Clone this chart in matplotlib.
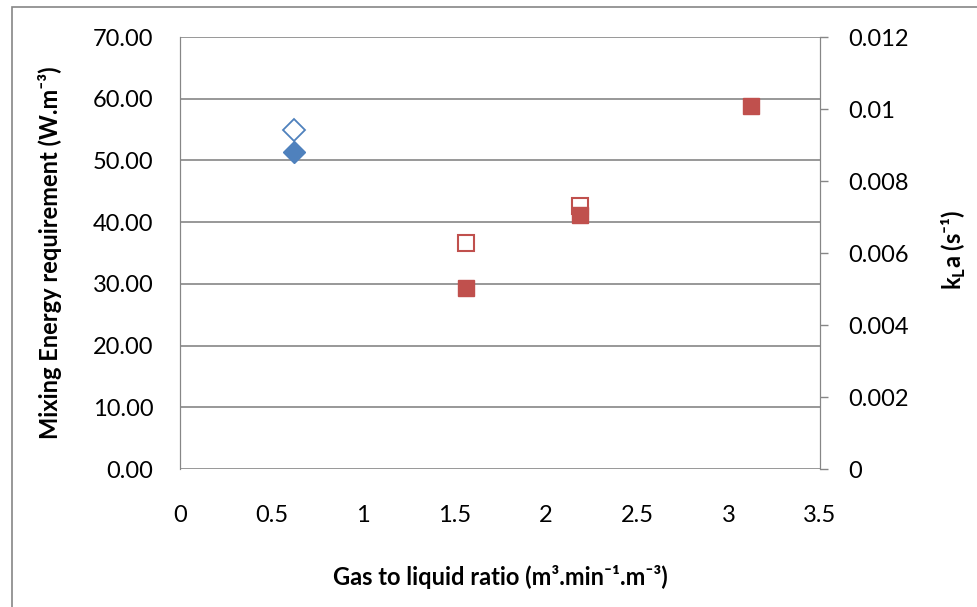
import matplotlib.pyplot as plt
from matplotlib.patches import Rectangle

plt.rcParams['font.family'] = ['Lato', 'DejaVu Sans']

# Mixing energy (left axis, filled markers)
gl_blue = [0.625]
energy_blue = [51.4]
gl_red = [1.565, 2.19, 3.125]
energy_red = [29.3, 41.2, 58.8]

# kLa (right axis, hollow markers)
gl_kla_blue = [0.625]
kla_blue = [0.00941]
gl_kla_red = [1.565, 2.19]
kla_red = [0.00628, 0.00730]

x_ticks = [0, 0.5, 1, 1.5, 2, 2.5, 3, 3.5]
x_tick_labels = ['0', '0.5', '1', '1.5', '2', '2.5', '3', '3.5']
kla_ticks = [0, 0.002, 0.004, 0.006, 0.008, 0.01, 0.012]
kla_tick_labels = ['0', '0.002', '0.004', '0.006', '0.008', '0.01', '0.012']

blue = '#4F81BD'
red = '#C0504D'
grey = '#868686'

fig = plt.figure(figsize=(9.77, 6.07), dpi=100)
ax = fig.add_axes([180 / 977, 138 / 607, 640 / 977, 432 / 607])
ax2 = ax.twinx()
# filled markers sit on top of the hollow ones
ax.set_zorder(ax2.get_zorder() + 1)
ax.patch.set_visible(False)

ax.plot(gl_blue, energy_blue, linestyle='none', marker='D', ms=11, color=blue, zorder=3)
ax.plot(gl_red, energy_red, linestyle='none', marker='s', ms=12, color=red, zorder=3)
ax2.plot(gl_kla_blue, kla_blue, linestyle='none', marker='D', ms=11, mfc='white', mec=blue, mew=1.3)
ax2.plot(gl_kla_red, kla_red, linestyle='none', marker='s', ms=12, mfc='white', mec=red, mew=1.5)

ax.set_xlim(0, 3.5)
ax.set_ylim(0, 70)
ax2.set_ylim(0, 0.012)
ax.set_xticks(x_ticks)
ax.set_xticklabels(x_tick_labels)
ax.set_yticks(range(0, 71, 10))
ax.set_yticklabels([f'{v:.2f}' for v in range(0, 71, 10)])
ax2.set_yticks(kla_ticks)
ax2.set_yticklabels(kla_tick_labels)

ax.grid(axis='y', color=grey, linewidth=1.2, zorder=0)
ax.set_axisbelow(True)
for a in (ax, ax2):
    a.spines['top'].set_visible(False)
    a.spines['bottom'].set_visible(False)
    a.spines['left'].set_color(grey)
    a.spines['right'].set_color(grey)
ax.tick_params(axis='x', length=0, labelsize=17, pad=26)
ax.tick_params(axis='y', length=0, labelsize=17, pad=19)
ax2.tick_params(axis='y', length=6, width=1, color=grey, labelsize=17, pad=14)

ax.set_ylabel('Mixing Energy requirement (W.m⁻³)', fontsize=17, fontweight='bold')
ax2.set_ylabel('k$_\\mathregular{L}$a (s⁻¹)', fontsize=17, fontweight='bold')
ax.set_xlabel('Gas to liquid ratio (m³.min⁻¹.m⁻³)', fontsize=17, fontweight='bold')
ax.yaxis.set_label_coords(-180 / 640 + 62 / 640, 0.5)
ax2.yaxis.set_label_coords((940 - 180) / 640, (469 - 250) / 432)
ax.xaxis.set_label_coords((500 - 180) / 640, -(565 - 469) / 432)

# chart-area border
fig.patches.append(Rectangle((12 / 977, -0.05), 1.2, 1.05 - 7 / 607, transform=fig.transFigure,
                             fill=False, edgecolor=grey, linewidth=1.2))

fig.savefig('out.png', dpi=100)
